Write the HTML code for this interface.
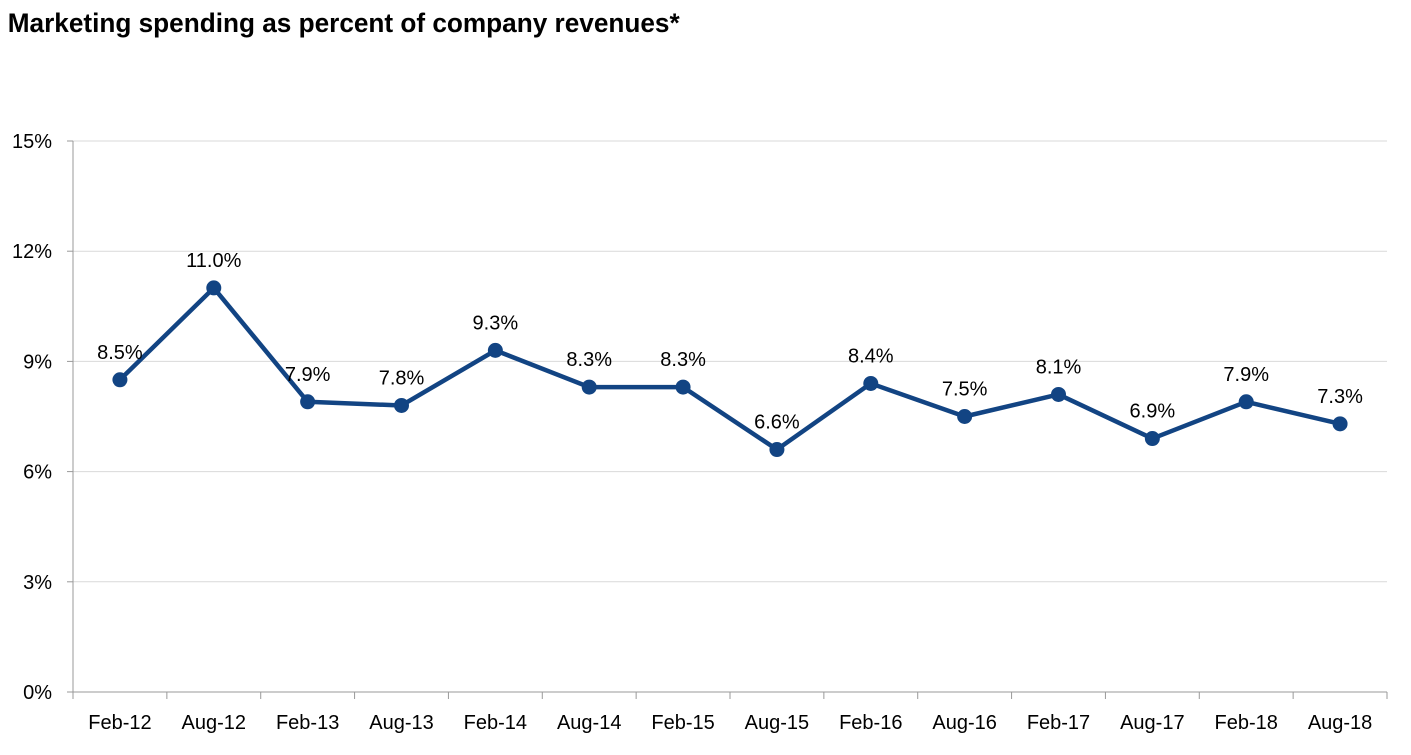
<!DOCTYPE html>
<html><head><meta charset="utf-8">
<style>
body{margin:0;background:#fff;}
svg{display:block;font-family:"Liberation Sans",Arial,sans-serif;}
</style></head>
<body>
<svg id="chart" width="1411" height="755" viewBox="0 0 1411 755">
<text x="8" y="32" font-size="27" font-weight="bold" fill="#000" transform="scale(0.97,1)">Marketing spending as percent of company revenues*</text>
<g id="grid"></g><g id="axes"></g><g id="series"></g>
</svg>
<script>
const categories=["Feb-12","Aug-12","Feb-13","Aug-13","Feb-14","Aug-14","Feb-15","Aug-15","Feb-16","Aug-16","Feb-17","Aug-17","Feb-18","Aug-18"];
const values=[8.5,11.0,7.9,7.8,9.3,8.3,8.3,6.6,8.4,7.5,8.1,6.9,7.9,7.3];
const yTicks=[0,3,6,9,12,15];
const NS="http://www.w3.org/2000/svg";
const L=73,R=1387,T=141,B=692,yMax=15;
const bw=(R-L)/categories.length;
const x=i=>L+bw*(i+0.5);
const y=v=>B-(v/yMax)*(B-T);
function mk(tag,attrs,parent){const e=document.createElementNS(NS,tag);for(const k in attrs)e.setAttribute(k,attrs[k]);parent.appendChild(e);return e;}
const grid=document.getElementById('grid'),axes=document.getElementById('axes'),series=document.getElementById('series');
yTicks.forEach(t=>{
  if(t>0){const g=mk('line',{x1:L,x2:R,y1:y(t),y2:y(t),stroke:'#d9d9d9','stroke-width':1},grid);
  
  }
  const tk=mk('line',{x1:L-6,x2:L,y1:y(t),y2:y(t),stroke:'#999','stroke-width':1},axes);
  
  
  const lb=mk('text',{x:52,y:y(t)+7,'font-size':20,'text-anchor':'end',fill:'#000'},axes);
  lb.textContent=t+'%';
  
  
});
const ya=mk('line',{x1:L,x2:L,y1:T,y2:B,stroke:'#999','stroke-width':1},axes);


const xa=mk('line',{x1:L,x2:R,y1:B,y2:B,stroke:'#999','stroke-width':1},axes);


for(let i=0;i<=categories.length;i++){
  const tk=mk('line',{x1:L+bw*i,x2:L+bw*i,y1:B,y2:B+7,stroke:'#999','stroke-width':1},axes);
  
  
}
categories.forEach((c,i)=>{
  const lb=mk('text',{x:x(i),y:729,'font-size':20,'text-anchor':'middle',fill:'#000'},axes);
  lb.textContent=c;
  
  
});
const pl=mk('polyline',{points:values.map((v,i)=>x(i)+','+y(v)).join(' '),fill:'none',stroke:'#124483','stroke-width':4.5,'stroke-linejoin':'round'},series);


values.forEach((v,i)=>{
  const c=mk('circle',{cx:x(i),cy:y(v),r:7.5,fill:'#124483'},series);
  
  
  const t=mk('text',{x:x(i),y:y(v)-21,'font-size':20,'text-anchor':'middle',fill:'#000'},series);
  t.textContent=v.toFixed(1)+'%';
  
  
});
</script>
</body></html>
